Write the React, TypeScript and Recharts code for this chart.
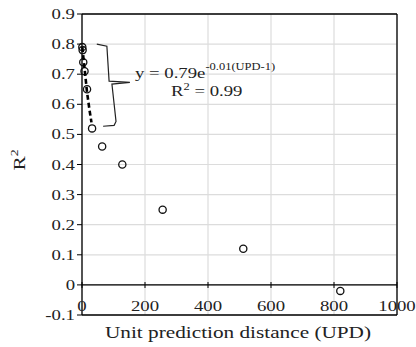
import { ScatterChart, Scatter, XAxis, YAxis, CartesianGrid, ReferenceLine, Customized } from 'recharts';

// measured R² vs unit prediction distance
const upd = [1, 2, 4, 8, 16, 32, 64, 128, 256, 512, 820];
const r2 = [0.79, 0.78, 0.74, 0.71, 0.65, 0.52, 0.46, 0.4, 0.25, 0.12, -0.02];

// dashed exponential trend
const trendX = [1, 8, 16, 24, 30];
const trendY = [0.79, 0.72, 0.64, 0.58, 0.54];

// brace next to the fitted points
const braceX = [47, 79, 86, 152, 95, 108, 102, 67];
const braceY = [0.8, 0.793, 0.677, 0.673, 0.667, 0.543, 0.53, 0.527];

const xTicks = [0, 200, 400, 600, 800, 1000];
const yTicks = [-0.1, 0, 0.1, 0.2, 0.3, 0.4, 0.5, 0.6, 0.7, 0.8, 0.9];

const points = upd.map((x, i) => ({ x, y: r2[i] }));
const trend = trendX.map((x, i) => ({ x, y: trendY[i] }));
const brace = braceX.map((x, i) => ({ x, y: braceY[i] }));

const FONT = '"Liberation Serif", "Times New Roman", serif';
const STRETCH = 1.25;

const YTick = (props: any) => {
    const { x, y, payload } = props;
    const v = payload.value;
    const txt = Math.abs(v) < 1e-9 ? '0' : v.toFixed(1);
    return (
        <text transform={`translate(${x},${y}) scale(${STRETCH},1)`} dy={5} textAnchor="end"
            fontFamily={FONT} fontSize={15} fill="#222">
            {txt}
        </text>
    );
};

const XTick = (props: any) => {
    const { x, payload } = props;
    return (
        <g>
            <line x1={x} x2={x} y1={282} y2={288} stroke="#000" />
            <text transform={`translate(${x},311) scale(${STRETCH},1)`} textAnchor="middle"
                fontFamily={FONT} fontSize={15} fill="#222">
                {payload.value}
            </text>
        </g>
    );
};

const Texts = () => (
    <g fontFamily={FONT} fill="#222">
        <text transform={`translate(135,78) scale(${STRETCH},1)`} fontSize={15}>
            y = 0.79e
            <tspan dy={-8} fontSize={10}>-0.01(UPD-1)</tspan>
        </text>
        <text transform={`translate(171,96) scale(${STRETCH},1)`} fontSize={15}>
            R<tspan dy={-6} fontSize={10}>2</tspan><tspan dy={6}> = 0.99</tspan>
        </text>
        <text transform={`translate(25,160) rotate(-90) scale(${STRETCH},1)`} textAnchor="middle" fontSize={17}>
            R<tspan dy={-7} fontSize={11}>2</tspan>
        </text>
        <text transform={`translate(238,338) scale(${STRETCH},1)`} textAnchor="middle" fontSize={17}>
            Unit prediction distance (UPD)
        </text>
    </g>
);

const Circle = (props: any) => (
    <circle cx={props.cx} cy={props.cy} r={3.6} fill="none" stroke="#111" strokeWidth={1.3} />
);

const Nothing = () => <g />;

export default function App() {
    return (
        <div style={{ position: 'absolute', left: 0, top: 0, background: '#fff' }}>
            <ScatterChart width={416} height={347} margin={{ top: 14, right: 19, left: 20, bottom: 2 }}>
                <CartesianGrid stroke="#dcdcdc" strokeWidth={1.2} />
                <XAxis type="number" dataKey="x" domain={[0, 1000]} ticks={xTicks} height={30}
                    axisLine={{ stroke: '#000', strokeWidth: 1.3 }} tickLine={false} tick={<XTick />}
                    interval={0} />
                <YAxis type="number" dataKey="y" domain={[-0.1, 0.9]} ticks={yTicks} width={62}
                    axisLine={{ stroke: '#000', strokeWidth: 1.3 }} tickLine={{ stroke: '#000' }} tickSize={5}
                    tick={<YTick />} interval={0} />
                <ReferenceLine y={0.9} stroke="#000" strokeWidth={1.3} />
                <ReferenceLine x={1000} stroke="#000" strokeWidth={1.3} />
                <ReferenceLine y={0} stroke="#000" strokeWidth={1.3} />
                <Scatter data={points} shape={<Circle />} isAnimationActive={false} />
                <Scatter data={trend} shape={<Nothing />} line={{ stroke: '#000', strokeWidth: 2.6, strokeDasharray: '5 3' }}
                    isAnimationActive={false} />
                <Scatter data={brace} shape={<Nothing />} line={{ stroke: '#222', strokeWidth: 1.2 }}
                    isAnimationActive={false} />
                <Customized component={Texts} />
            </ScatterChart>
        </div>
    );
}
